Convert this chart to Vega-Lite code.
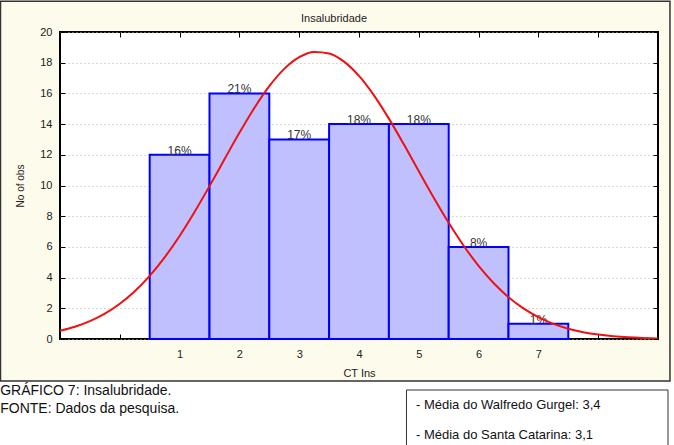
{
  "$schema": "https://vega.github.io/schema/vega-lite/v6.json",
  "width": 598,
  "height": 307,
  "autosize": "none",
  "padding": {"left": 60, "top": 32, "right": 16, "bottom": 106},
  "background": "#fdfbec",
  "title": {"text": "Insalubridade", "fontSize": 11, "font": "Arial, Liberation Sans", "fontWeight": "normal", "color": "#222222", "offset": -23, "dx": -25},
  "config": {
    "view": {"fill": "white", "stroke": "black", "strokeWidth": 2},
    "axis": {"labelFont": "Arial, Liberation Sans", "titleFont": "Arial, Liberation Sans", "labelColor": "#222222", "titleColor": "#222222", "titleFontWeight": "normal", "labelFontSize": 11, "titleFontSize": 11, "tickColor": "black", "domain": false}
  },
  "datasets": {
    "bars": [
      {"ct": 1, "x0": 0.5, "x1": 1.5, "n": 12, "pct": "16%"},
      {"ct": 2, "x0": 1.5, "x1": 2.5, "n": 16, "pct": "21%"},
      {"ct": 3, "x0": 2.5, "x1": 3.5, "n": 13, "pct": "17%"},
      {"ct": 4, "x0": 3.5, "x1": 4.5, "n": 14, "pct": "18%"},
      {"ct": 5, "x0": 4.5, "x1": 5.5, "n": 14, "pct": "18%"},
      {"ct": 6, "x0": 5.5, "x1": 6.5, "n": 6, "pct": "8%"},
      {"ct": 7, "x0": 6.5, "x1": 7.5, "n": 1, "pct": "1%"}
    ],
    "curve": [
      {"x": -1, "y": 0.535}, {"x": -0.75, "y": 0.798}, {"x": -0.5, "y": 1.161}, {"x": -0.25, "y": 1.651},
      {"x": 0, "y": 2.292}, {"x": 0.25, "y": 3.108}, {"x": 0.5, "y": 4.115}, {"x": 0.75, "y": 5.319},
      {"x": 1, "y": 6.714}, {"x": 1.25, "y": 8.275}, {"x": 1.5, "y": 9.959}, {"x": 1.75, "y": 11.705},
      {"x": 2, "y": 13.432}, {"x": 2.25, "y": 15.052}, {"x": 2.5, "y": 16.469}, {"x": 2.75, "y": 17.596},
      {"x": 3, "y": 18.358}, {"x": 3.25, "y": 18.703}, {"x": 3.5, "y": 18.605}, {"x": 3.75, "y": 18.072},
      {"x": 4, "y": 17.141}, {"x": 4.25, "y": 15.876}, {"x": 4.5, "y": 14.358}, {"x": 4.75, "y": 12.68},
      {"x": 5, "y": 10.934}, {"x": 5.25, "y": 9.207}, {"x": 5.5, "y": 7.57}, {"x": 5.75, "y": 6.077},
      {"x": 6, "y": 4.764}, {"x": 6.25, "y": 3.648}, {"x": 6.5, "y": 2.726}, {"x": 6.75, "y": 1.99},
      {"x": 7, "y": 1.418}, {"x": 7.25, "y": 0.987}, {"x": 7.5, "y": 0.671}, {"x": 7.75, "y": 0.445},
      {"x": 8, "y": 0.288}, {"x": 8.25, "y": 0.183}, {"x": 8.5, "y": 0.113}, {"x": 8.75, "y": 0.068},
      {"x": 9, "y": 0.04}
    ],
    "one": [{"k": 1}],
    "notes": [
      {"t": "GRÁFICO 7: Insalubridade.", "row": 1},
      {"t": "FONTE: Dados da pesquisa.", "row": 2}
    ]
  },
  "resolve": {"axis": {"x": "independent", "y": "independent"}},
  "layer": [
    {
      "data": {"name": "bars"},
      "mark": {"type": "rect", "fill": "#c0c0ff", "stroke": "#0000ff", "strokeWidth": 2},
      "encoding": {
        "x": {"field": "x0", "type": "quantitative", "scale": {"domain": [-1, 9], "nice": false, "zero": false},
              "axis": {"orient": "bottom", "values": [0, 1, 2, 3, 4, 5, 6, 7, 8], "tickSize": -5, "labelPadding": 14, "labelExpr": "datum.value >= 1 && datum.value <= 7 ? datum.label : ''", "title": "CT  Ins", "titlePadding": 8, "grid": false}},
        "x2": {"field": "x1"},
        "y": {"field": "n", "type": "quantitative", "scale": {"domain": [0, 20], "nice": false, "zero": true},
              "axis": {"orient": "left", "values": [0, 2, 4, 6, 8, 10, 12, 14, 16, 18, 20], "tickSize": -5, "labelPadding": 13, "grid": true, "gridColor": "#b0b0b0", "gridDash": [1, 3], "gridWidth": 1, "title": "No of obs", "titleFontSize": 10, "titlePadding": 14}},
        "y2": {"datum": 0}
      }
    },
    {
      "data": {"name": "bars"},
      "mark": {"type": "text", "baseline": "alphabetic", "align": "center", "dy": 0, "fontSize": 12, "font": "Arial, Liberation Sans", "color": "#333333"},
      "encoding": {
        "x": {"field": "ct", "type": "quantitative", "axis": null},
        "y": {"field": "n", "type": "quantitative", "axis": null},
        "text": {"field": "pct"}
      }
    },
    {
      "data": {"name": "curve"},
      "mark": {"type": "line", "color": "#ee1111", "strokeWidth": 2, "interpolate": "monotone", "clip": true},
      "encoding": {
        "x": {"field": "x", "type": "quantitative", "axis": {"orient": "top", "values": [0, 1, 2, 3, 4, 5, 6, 7, 8], "tickSize": -5, "labels": false, "title": null, "grid": false}},
        "y": {"field": "y", "type": "quantitative", "axis": {"orient": "right", "values": [0, 2, 4, 6, 8, 10, 12, 14, 16, 18, 20], "tickSize": -5, "labels": false, "title": null, "grid": false}}
      }
    },
    {
      "data": {"name": "one"},
      "mark": {"type": "rect", "fill": "white"},
      "encoding": {
        "x": {"datum": -2.2, "type": "quantitative", "axis": null},
        "x2": {"datum": 9.4},
        "y": {"datum": -2.736, "type": "quantitative", "axis": null},
        "y2": {"datum": -8}
      }
    },
    {
      "data": {"name": "one"},
      "mark": {"type": "rect", "fill": null, "stroke": "#333333", "strokeWidth": 1.5},
      "encoding": {
        "x": {"datum": -1.995, "type": "quantitative", "axis": null},
        "x2": {"datum": 9.2},
        "y": {"datum": 22.0, "type": "quantitative", "axis": null},
        "y2": {"datum": -2.736}
      }
    },
    {
      "data": {"name": "one"},
      "mark": {"type": "rect", "fill": "white", "stroke": "#333333", "strokeWidth": 1},
      "encoding": {
        "x": {"datum": 4.794, "type": "quantitative", "axis": null},
        "x2": {"datum": 9.167},
        "y": {"datum": -3.322, "type": "quantitative", "axis": null},
        "y2": {"datum": -7.3}
      }
    },
    {
      "data": {"name": "notes"},
      "transform": [{"filter": "datum.row == 1"}],
      "mark": {"type": "text", "align": "left", "baseline": "middle", "fontSize": 14, "font": "Arial, Liberation Sans", "color": "#111111"},
      "encoding": {
        "x": {"datum": -2.0, "type": "quantitative", "axis": null},
        "y": {"datum": -3.39, "type": "quantitative", "axis": null},
        "text": {"field": "t"}
      }
    },
    {
      "data": {"name": "notes"},
      "transform": [{"filter": "datum.row == 2"}],
      "mark": {"type": "text", "align": "left", "baseline": "middle", "fontSize": 14, "font": "Arial, Liberation Sans", "color": "#111111"},
      "encoding": {
        "x": {"datum": -2.0, "type": "quantitative", "axis": null},
        "y": {"datum": -4.56, "type": "quantitative", "axis": null},
        "text": {"field": "t"}
      }
    },
    {
      "data": {"values": [{"t": "- Média do Walfredo Gurgel: 3,4"}]},
      "mark": {"type": "text", "align": "left", "baseline": "middle", "fontSize": 13, "font": "Arial, Liberation Sans", "color": "#111111"},
      "encoding": {
        "x": {"datum": 4.953, "type": "quantitative", "axis": null},
        "y": {"datum": -4.3, "type": "quantitative", "axis": null},
        "text": {"field": "t"}
      }
    },
    {
      "data": {"values": [{"t": "- Média do Santa Catarina: 3,1"}]},
      "mark": {"type": "text", "align": "left", "baseline": "middle", "fontSize": 13, "font": "Arial, Liberation Sans", "color": "#111111"},
      "encoding": {
        "x": {"datum": 4.953, "type": "quantitative", "axis": null},
        "y": {"datum": -6.25, "type": "quantitative", "axis": null},
        "text": {"field": "t"}
      }
    }
  ]
}
